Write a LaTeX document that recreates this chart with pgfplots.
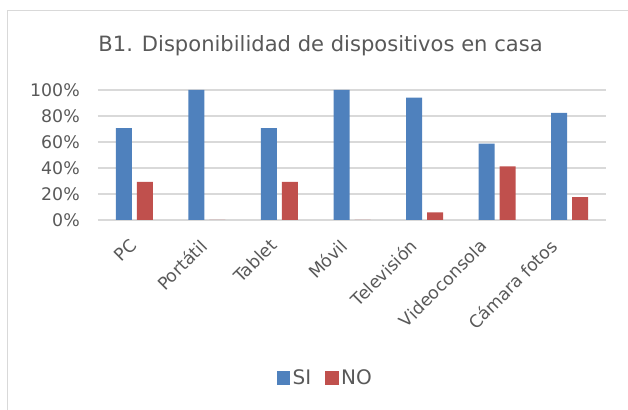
\documentclass[border=0pt]{standalone}
\usepackage{fontspec}
\setmainfont{DejaVu Sans}
\usepackage{pgfplots}
\pgfplotsset{compat=1.18}
\definecolor{siblue}{HTML}{4F81BD}
\definecolor{nored}{HTML}{C0504D}
\definecolor{txtgray}{HTML}{595959}
\definecolor{gridgray}{HTML}{D9D9D9}

\begin{document}
\begin{tikzpicture}
% canvas 628x410 px, 1px = 0.75pt
\path[use as bounding box] (0,0) rectangle (471pt,307.5pt);
\draw[gridgray, line width=0.9pt] (5.6pt,0) -- (5.6pt,299.4pt) -- (471pt,299.4pt);
\node[anchor=base, text=txtgray, font=\fontsize{15.8}{18}\selectfont] at (240.4pt,268.5pt)
  {B1. Disponibilidad de dispositivos en casa};

\begin{axis}[
  at={(73.5pt,142.5pt)}, anchor=south west,
  scale only axis, width=381pt, height=97.5pt,
  ybar=3.75pt, bar width=12pt,
  xmin=-0.5, xmax=6.5, ymin=0, ymax=100,
  xtick={0,...,6},
  xticklabels={PC,Portátil,Tablet,Móvil,Televisión,Videoconsola,Cámara fotos},
  % shifts given before the rotation, so they act on the page axes
  x tick label style={xshift={(-4.25-1.9*\ticknum)*1pt}, yshift=-13.1pt,
    rotate=45, anchor=north east, inner sep=0pt},
  ytick={0,20,...,100},
  yticklabel={\pgfmathprintnumber{\tick}\%},
  /pgf/number format/assume math mode=true,
  ymajorgrids, grid style={gridgray, line width=1pt},
  axis line style={draw=none},
  major tick length=0pt,
  tick label style={text=txtgray, font=\fontsize{13}{15}\selectfont},
  y tick label style={inner sep=0pt, xshift=-13.5pt},
  legend style={at={(0.448,-1.215)}, anchor=center, draw=none, fill=none,
    legend columns=2, font=\fontsize{15}{17}\selectfont, text=txtgray,
    /tikz/every even column/.append style={column sep=8.5pt}},
  legend image code/.code={\fill[#1] (0pt,-5pt) rectangle (10pt,5pt);},
]
\addplot[fill=siblue, draw=none] coordinates {
  (0,70.59) (1,100) (2,70.59) (3,100) (4,94.12) (5,58.82) (6,82.35)
};
\addlegendentry{SI}
\addplot[fill=nored, draw=none] coordinates {
  (0,29.41) (1,0) (2,29.41) (3,0) (4,5.88) (5,41.18) (6,17.65)
};
\addlegendentry{NO}
\end{axis}
\end{tikzpicture}
\end{document}
